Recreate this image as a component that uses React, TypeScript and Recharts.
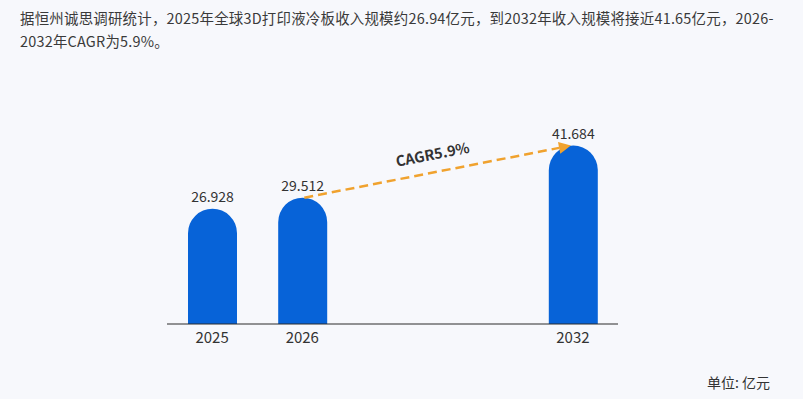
import { BarChart, Bar, XAxis, YAxis, LabelList, ReferenceLine } from "recharts";

const categories = ["2025", "2026", "", " ", "2032"];
const revenue: (number | null)[] = [26.928, 29.512, null, null, 41.684];
const cagrFrom = { year: "2026", value: 29.512 };
const cagrTo = { year: "2032", value: 41.684 };
const cagrText = "CAGR5.9%";

const data = categories.map((year, i) => ({ year, revenue: revenue[i] }));

const FONT = '"Noto Sans CJK SC", "Noto Sans", sans-serif';

function CagrArrow(props: any) {
  const { x1, y1, x2, y2 } = props;
  if (x1 == null || x2 == null) return null;
  const sx = x1 + 2;
  const ex = x2 - 2;
  const ang = Math.atan2(y2 - y1, ex - sx);
  const len = 12;
  const w = 6;
  const bx = ex - len * Math.cos(ang);
  const by = y2 - len * Math.sin(ang);
  const px = -Math.sin(ang) * w;
  const py = Math.cos(ang) * w;
  const mx = (sx + ex) / 2 - 4;
  const my = (y1 + y2) / 2 - 12;
  const deg = (ang * 180) / Math.PI;
  return (
    <g>
      <line x1={sx} y1={y1} x2={bx} y2={by} stroke="#f0a22e" strokeWidth={2.5} strokeDasharray="9 5" />
      <polygon points={`${ex},${y2} ${bx + px},${by + py} ${bx - px},${by - py}`} fill="#f0a22e" />
      <text
        x={mx}
        y={my}
        transform={`rotate(${deg} ${mx} ${my})`}
        textAnchor="middle"
        fontSize={14.5}
        fontWeight={700}
        fill="#333"
        fontFamily={FONT}
      >
        {cagrText}
      </text>
    </g>
  );
}

export default function App() {
  return (
    <div style={{ position: "relative", width: 803, height: 399, background: "#f7f8fc", fontFamily: FONT }}>
      <style>{`body{margin:0}`}</style>
      <div
        style={{
          position: "absolute",
          left: 20,
          top: 6,
          fontSize: 14.45,
          lineHeight: "23px",
          color: "#3a3a3a",
          whiteSpace: "nowrap",
          letterSpacing: 0.22,
        }}
      >
        据恒州诚思调研统计，2025年全球3D打印液冷板收入规模约26.94亿元，到2032年收入规模将接近41.65亿元，2026-
        <br />
        2032年CAGR为5.9%。
      </div>
      <div style={{ position: "absolute", left: 0, top: 0 }}>
        <BarChart width={803} height={399} data={data} margin={{ top: 110, right: 185, bottom: 45, left: 167 }}>
          <XAxis
            dataKey="year"
            axisLine={{ stroke: "#2b2b2b", strokeWidth: 1 }}
            tickLine={false}
            height={30}
            tick={{ fontSize: 15, fill: "#333", fontFamily: FONT }}
            interval={0}
          />
          <YAxis hide domain={[0, 50]} />
          <Bar dataKey="revenue" fill="#0763d8" barSize={49} radius={[24.5, 24.5, 0, 0]} isAnimationActive={false}>
            <LabelList dataKey="revenue" position="top" offset={7} fontSize={14} fill="#333" fontFamily={FONT} />
          </Bar>
          <ReferenceLine
            segment={[
              { x: cagrFrom.year, y: cagrFrom.value },
              { x: cagrTo.year, y: cagrTo.value },
            ]}
            shape={<CagrArrow />}
          />
        </BarChart>
      </div>
      <div style={{ position: "absolute", right: 33, top: 372, fontSize: 14, color: "#333" }}>单位: 亿元</div>
    </div>
  );
}
